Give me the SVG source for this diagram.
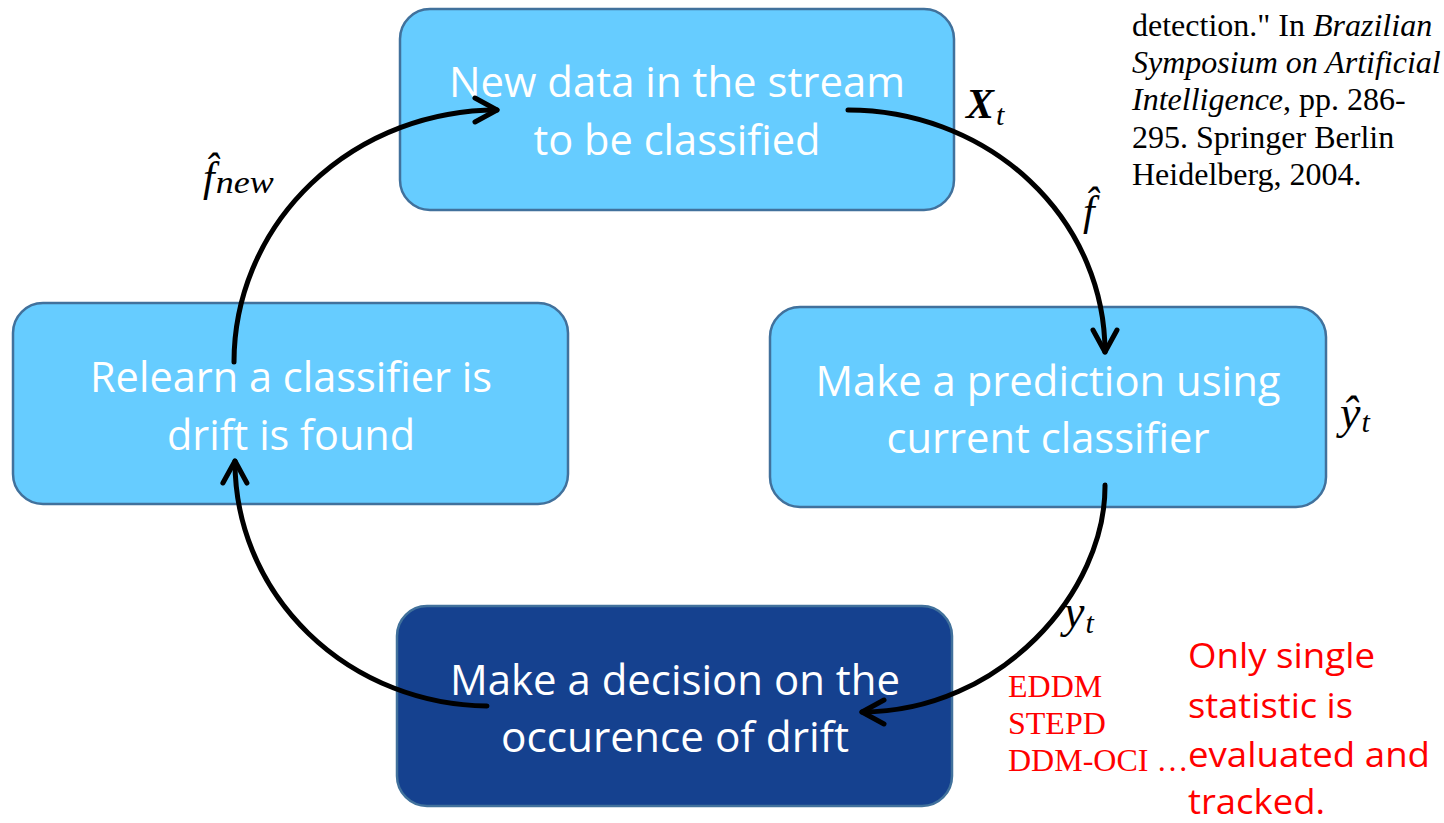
<svg xmlns="http://www.w3.org/2000/svg" width="1444" height="823" viewBox="0 0 1444 823">
  <style>
    .box { stroke: #41719C; stroke-width: 2.5; }
    .light { fill: #66CCFF; }
    .dark { fill: #15418F; }
    .label { font-family: "Open Sans", "Noto Sans", sans-serif; font-size: 42px; fill: #FFFFFF; text-anchor: middle; }
    .conn { fill: none; stroke: #000000; stroke-width: 5; stroke-linecap: round; }
    .math { font-family: "Liberation Serif", "DejaVu Serif", serif; font-style: italic; fill: #000000; }
    .cite { font-family: "Liberation Serif", "Times New Roman", serif; font-size: 32px; fill: #000000; }
    .redserif { font-family: "Liberation Serif", "Times New Roman", serif; font-size: 32px; fill: #FF0000; }
    .redsans { font-family: "Open Sans", "Noto Sans", sans-serif; font-size: 35px; fill: #FF0000; }
  </style>
  <defs>
    <marker id="chevron" markerUnits="userSpaceOnUse" markerWidth="40" markerHeight="40" viewBox="-30 -20 40 40" refX="0" refY="0" orient="auto">
      <path d="M-22,-12 L0,0 L-22,12" fill="none" stroke="#000000" stroke-width="5" stroke-linecap="round" stroke-linejoin="round"/>
    </marker>
  </defs>

  <rect width="1444" height="823" fill="#FFFFFF"/>

  <!-- process steps -->
  <g id="node-new-data">
    <rect class="box light" x="400" y="9" width="554" height="201" rx="30"/>
    <text class="label" x="677" y="97" textLength="456" lengthAdjust="spacingAndGlyphs">New data in the stream</text>
    <text class="label" x="677" y="155" textLength="287" lengthAdjust="spacingAndGlyphs">to be classified</text>
  </g>

  <g id="node-predict">
    <rect class="box light" x="770" y="307" width="556" height="200" rx="30"/>
    <text class="label" x="1048" y="396" textLength="465" lengthAdjust="spacingAndGlyphs">Make a prediction using</text>
    <text class="label" x="1048" y="453" textLength="323" lengthAdjust="spacingAndGlyphs">current classifier</text>
  </g>

  <g id="node-decision">
    <rect class="box dark" x="397" y="606" width="555" height="200" rx="30"/>
    <text class="label" x="675" y="695" textLength="450" lengthAdjust="spacingAndGlyphs">Make a decision on the</text>
    <text class="label" x="675" y="752" textLength="348" lengthAdjust="spacingAndGlyphs">occurence of drift</text>
  </g>

  <g id="node-relearn">
    <rect class="box light" x="13" y="303" width="555" height="201" rx="30"/>
    <text class="label" x="291" y="392" textLength="402" lengthAdjust="spacingAndGlyphs">Relearn a classifier is</text>
    <text class="label" x="291" y="450" textLength="248" lengthAdjust="spacingAndGlyphs">drift is found</text>
  </g>

  <!-- cycle arrows -->
  <g id="connectors">
    <path class="conn" d="M848,110 A257,242 0 0 1 1105,352" marker-end="url(#chevron)"/>
    <path class="conn" d="M1105,485 C1106,592 1000,712 862,712" marker-end="url(#chevron)"/>
    <path class="conn" d="M487,706 A255,244 0 0 1 235,461" marker-end="url(#chevron)"/>
    <path class="conn" d="M234,362 A263,252 0 0 1 497,110" marker-end="url(#chevron)"/>
  </g>

  <!-- edge symbols -->
  <g id="symbols">
    <text class="math" x="966" y="118" font-size="42" font-weight="bold">X<tspan font-size="30" font-weight="normal" dx="2" dy="7">t</tspan></text>

    <text class="math" x="1083" y="225" font-size="42">f̂</text>

    <text class="math" x="203" y="191" font-size="42">f̂<tspan font-size="32" dx="1" dy="2" textLength="58" lengthAdjust="spacingAndGlyphs">new</tspan></text>

    <text class="math" x="1340" y="428" font-size="46">ŷ<tspan font-size="30" dx="1" dy="4">t</tspan></text>

    <text class="math" x="1064" y="627" font-size="46">y<tspan font-size="30" dx="1" dy="6">t</tspan></text>
  </g>

  <!-- reference note -->
  <g id="citation">
    <text class="cite" x="1132" y="36">detection." In <tspan font-style="italic">Brazilian</tspan></text>
    <text class="cite" x="1132" y="73" font-style="italic">Symposium on Artificial</text>
    <text class="cite" x="1132" y="110"><tspan font-style="italic">Intelligence</tspan>, pp. 286-</text>
    <text class="cite" x="1132" y="148">295. Springer Berlin</text>
    <text class="cite" x="1132" y="185">Heidelberg, 2004.</text>
  </g>

  <!-- detector methods and remark -->
  <g id="methods">
    <text class="redserif" x="1008" y="697">EDDM</text>
    <text class="redserif" x="1008" y="734">STEPD</text>
    <text class="redserif" x="1008" y="771">DDM-OCI …</text>
  </g>

  <g id="remark">
    <text class="redsans" x="1188" y="668" textLength="187" lengthAdjust="spacingAndGlyphs">Only single</text>
    <text class="redsans" x="1188" y="718" textLength="165" lengthAdjust="spacingAndGlyphs">statistic is</text>
    <text class="redsans" x="1188" y="767" textLength="242" lengthAdjust="spacingAndGlyphs">evaluated and</text>
    <text class="redsans" x="1188" y="814" textLength="137" lengthAdjust="spacingAndGlyphs">tracked.</text>
  </g>
</svg>
